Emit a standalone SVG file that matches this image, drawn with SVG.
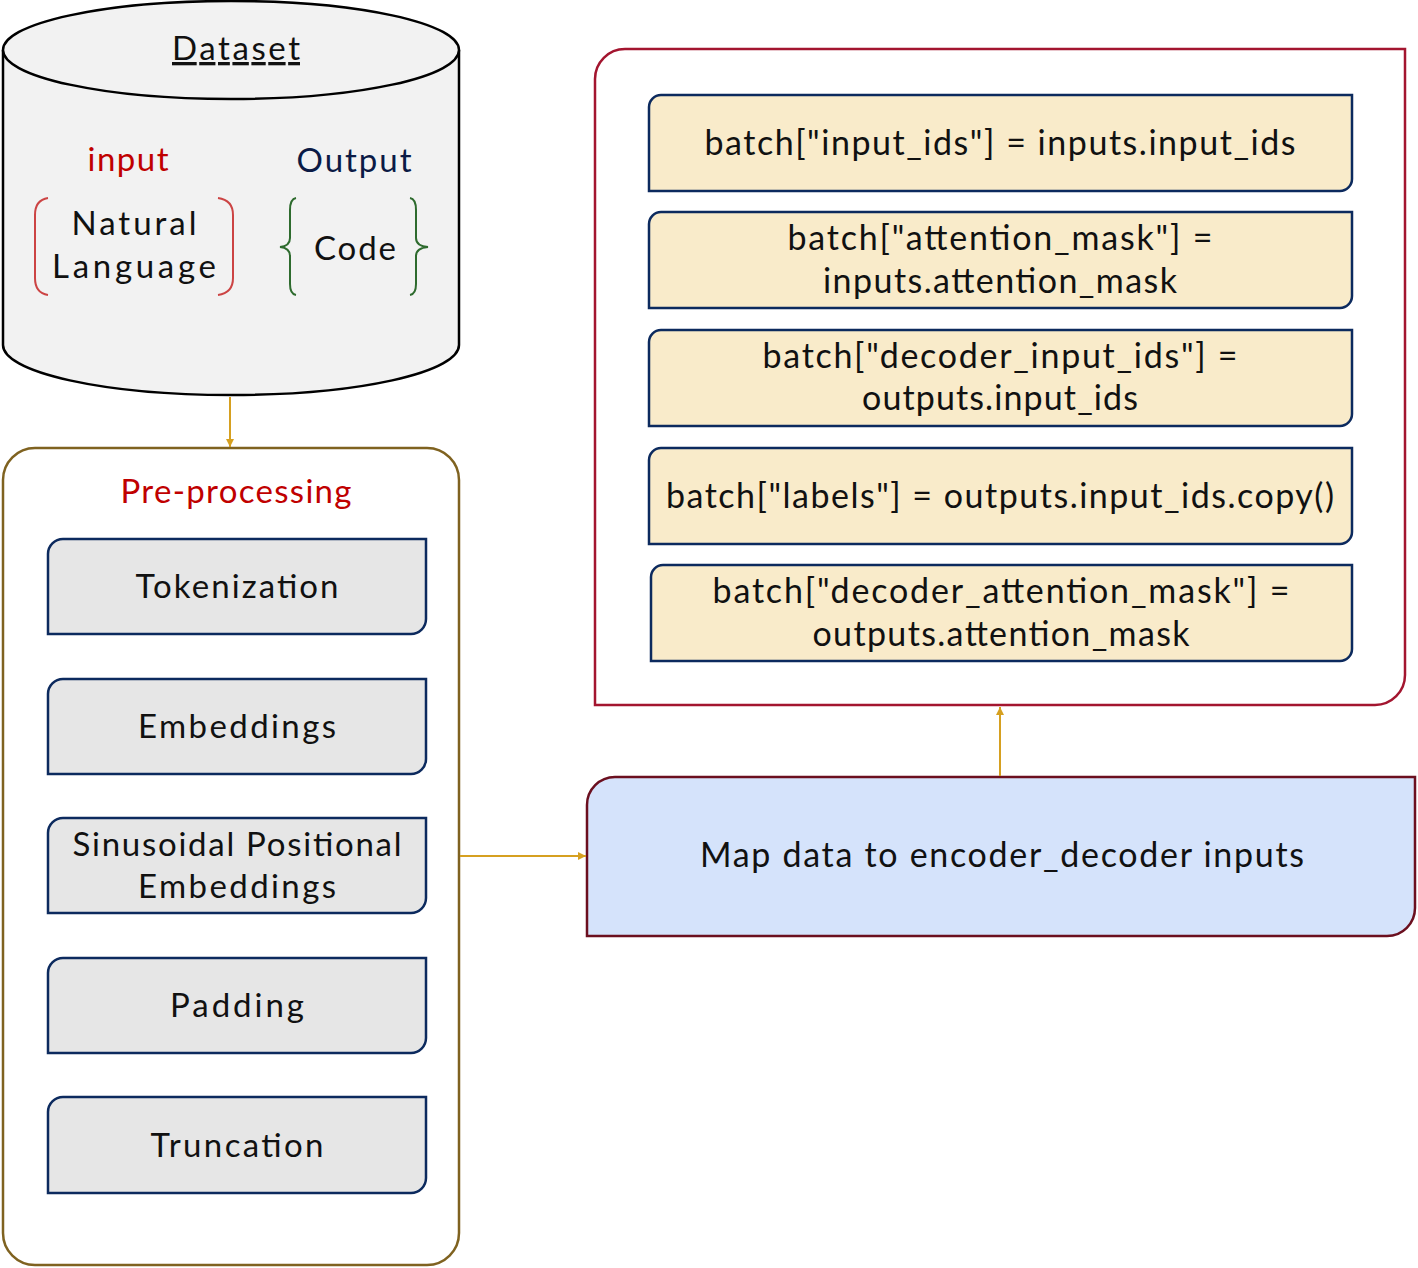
<svg xmlns="http://www.w3.org/2000/svg" width="1418" height="1268" viewBox="0 0 1418 1268">
<style>
text{font-family:Lato,"Noto Sans",sans-serif;font-size:33px;fill:#111;text-anchor:middle}
.r{font-size:34px}
.gray{fill:#e6e6e6;stroke:#0c2a5e;stroke-width:2.5}
.yel{fill:#f9ebca;stroke:#0c2a5e;stroke-width:2.5}
.conn{stroke:#d6a020;stroke-width:2;fill:none}
</style>
<defs>
<marker id="ah" viewBox="0 0 10 10" refX="10" refY="5" markerWidth="8" markerHeight="8" markerUnits="userSpaceOnUse" orient="auto">
<path d="M0,0 L10,5 L0,10 Z" fill="#d6a020"/>
</marker>
</defs>
<rect width="1418" height="1268" fill="#fff"/>

<g id="dataset">
<path d="M3,50 V345 A228,50 0 0 0 459,345 V50" fill="#f2f2f2" stroke="#000" stroke-width="2.5"/>
<ellipse cx="231" cy="50" rx="228" ry="49" fill="#f2f2f2" stroke="#000" stroke-width="2.5"/>
<text x="236" y="60" text-decoration="underline" textLength="128">Dataset</text>
<text x="128" y="171" style="fill:#c00000" textLength="81">input</text>
<text x="354" y="172" style="fill:#0b1a45" textLength="115">Output</text>
<text x="134" y="235" textLength="125">Natural</text>
<text x="134" y="278" textLength="164">Language</text>
<text x="355" y="260" textLength="82">Code</text>
<path d="M48,198 Q35,200 35,215 V278 Q35,293 48,295" fill="none" stroke="#cc4444" stroke-width="2"/>
<path d="M218,198 Q233,200 233,215 V278 Q233,293 218,295" fill="none" stroke="#cc4444" stroke-width="2"/>
<path d="M296,198 Q290,199 290,210 V238 Q290,246 280,247 Q290,248 290,256 V284 Q290,294 296,295" fill="none" stroke="#2e6b2e" stroke-width="2"/>
<path d="M410,198 Q416,199 416,210 V238 Q416,246 428,247 Q416,248 416,256 V284 Q416,294 410,295" fill="none" stroke="#2e6b2e" stroke-width="2"/>
</g>

<g id="preprocessing">
<rect x="3" y="448" width="456" height="817" rx="32" fill="#fff" stroke="#7f6220" stroke-width="2.5"/>
<text x="236" y="503" style="fill:#c00000" textLength="231">Pre-processing</text>
</g>
<g id="tokenization">
<path class="gray" d="M63,539 H426 V619 A15,15 0 0 1 411,634 H48 V554 A15,15 0 0 1 63,539 Z"/>
<text x="237" y="598" textLength="203">Tokenization</text>
</g>
<g id="embeddings">
<path class="gray" d="M63,679 H426 V759 A15,15 0 0 1 411,774 H48 V694 A15,15 0 0 1 63,679 Z"/>
<text x="237" y="738" textLength="198">Embeddings</text>
</g>
<g id="sinusoidal">
<path class="gray" d="M63,818 H426 V898 A15,15 0 0 1 411,913 H48 V833 A15,15 0 0 1 63,818 Z"/>
<text x="237" y="856" textLength="329">Sinusoidal Positional</text>
<text x="237" y="898" textLength="198">Embeddings</text>
</g>
<g id="padding">
<path class="gray" d="M63,958 H426 V1038 A15,15 0 0 1 411,1053 H48 V973 A15,15 0 0 1 63,958 Z"/>
<text x="237" y="1017" textLength="134">Padding</text>
</g>
<g id="truncation">
<path class="gray" d="M63,1097 H426 V1178 A15,15 0 0 1 411,1193 H48 V1112 A15,15 0 0 1 63,1097 Z"/>
<text x="237" y="1157" textLength="173">Truncation</text>
</g>

<g id="batch-container">
<path d="M625,49 H1405 V675 A30,30 0 0 1 1375,705 H595 V79 A30,30 0 0 1 625,49 Z" fill="#fff" stroke="#a3152f" stroke-width="2.5"/>
</g>
<g id="b1">
<path class="yel" d="M661,95 H1352 V179 A12,12 0 0 1 1340,191 H649 V107 A12,12 0 0 1 661,95 Z"/>
<text class="r" x="1000" y="155" textLength="591">batch["input_ids"] = inputs.input_ids</text>
</g>
<g id="b2">
<path class="yel" d="M661,212 H1352 V296 A12,12 0 0 1 1340,308 H649 V224 A12,12 0 0 1 661,212 Z"/>
<text class="r" x="1000" y="250" textLength="425">batch["attention_mask"] =</text>
<text class="r" x="1000" y="293" textLength="354">inputs.attention_mask</text>
</g>
<g id="b3">
<path class="yel" d="M661,330 H1352 V414 A12,12 0 0 1 1340,426 H649 V342 A12,12 0 0 1 661,330 Z"/>
<text class="r" x="1000" y="368" textLength="475">batch["decoder_input_ids"] =</text>
<text class="r" x="1000" y="410" textLength="276">outputs.input_ids</text>
</g>
<g id="b4">
<path class="yel" d="M661,448 H1352 V532 A12,12 0 0 1 1340,544 H649 V460 A12,12 0 0 1 661,448 Z"/>
<text class="r" x="1000" y="508" textLength="668">batch["labels"] = outputs.input_ids.copy()</text>
</g>
<g id="b5">
<path class="yel" d="M663,565 H1352 V649 A12,12 0 0 1 1340,661 H651 V577 A12,12 0 0 1 663,565 Z"/>
<text class="r" x="1001" y="603" textLength="577">batch["decoder_attention_mask"] =</text>
<text class="r" x="1001" y="646" textLength="377">outputs.attention_mask</text>
</g>

<g id="map">
<path d="M615,777 H1415 V908 A28,28 0 0 1 1387,936 H587 V805 A28,28 0 0 1 615,777 Z" fill="#d5e3fb" stroke="#6b0f1f" stroke-width="2.5"/>
<text class="r" x="1002" y="867" textLength="604">Map data to encoder_decoder inputs</text>
</g>

<g id="connectors">
<path class="conn" d="M230,397 V447" marker-end="url(#ah)"/>
<path class="conn" d="M460,856 H586" marker-end="url(#ah)"/>
<path class="conn" d="M1000,776 V707" marker-end="url(#ah)"/>
</g>
</svg>
